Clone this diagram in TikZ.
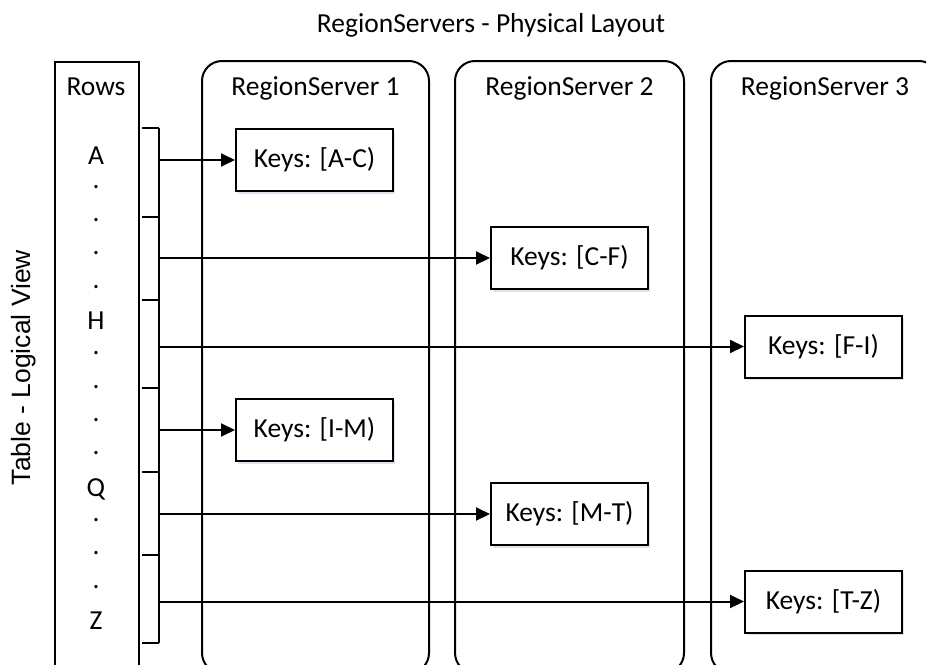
\documentclass[tikz,border=0pt]{standalone}
\usepackage{fontspec}
\setmainfont{Carlito}
\newfontfamily\arialfont{Liberation Sans}
\usetikzlibrary{arrows.meta,shadows}
\begin{document}
\begin{tikzpicture}[x=1pt,y=-1pt,line width=2pt,
  txt/.style={font=\fontsize{27.5}{32}\selectfont,inner sep=0pt},
  keybox/.style={draw,fill=white,minimum width=157pt,minimum height=62pt,inner sep=0pt,
    font=\fontsize{27.5}{32}\selectfont,
    drop shadow={shadow xshift=1.5pt,shadow yshift=-2.5pt,opacity=0.18,fill=blue!30!gray}},
  server/.style={draw,rounded corners=20pt,anchor=north west,minimum height=612pt,inner sep=0pt},
  feed/.style={-{Triangle[length=14pt,width=13pt]}}]

\useasboundingbox (0,0) rectangle (926,664);
\clip (0,0) rectangle (926,664);

% title and side caption
\node[txt,anchor=base] (title) at (491,32) {RegionServers - Physical Layout};
\node[inner sep=0pt,rotate=90,anchor=base,font=\arialfont\fontsize{26.5}{30}\selectfont]
  (side) at (30,367.5) {Table - Logical View};

% table column with row keys
\node[draw,anchor=north west,minimum width=84pt,minimum height=640pt,inner sep=0pt] (tbl) at (54,61) {};
\node[txt,anchor=base] (rows) at (96,95) {Rows};
\foreach \k/\y in {A/164,H/329,Q/496,Z/629}
  \node[txt,anchor=base] (row\k) at (96,\y) {\k};
\foreach \y [count=\i] in {187,220,253,287,353,387,420,453,520,553,587}
  \node[txt,anchor=base] (dot\i) at (96,\y+1.5) {.};

% region servers
\node[server,minimum width=227pt] (rs1) at (201,60) {};
\node[server,minimum width=229pt] (rs2) at (454,60) {};
\node[server,minimum width=228pt] (rs3) at (710,60) {};
\foreach \s in {1,2,3}
  \node[txt,anchor=base] (rs\s label) at ([yshift=-35.5pt]rs\s.north) {RegionServer \s};

% key ranges
\node[keybox] (kAC) at (314.5,160)   {Keys: [A-C)};
\node[keybox] (kCF) at (569.5,258)   {Keys: [C-F)};
\node[keybox] (kFI) at (823.5,346.5) {Keys: [F-I)};
\node[keybox] (kIM) at (314.5,430)   {Keys: [I-M)};
\node[keybox] (kMT) at (569.5,514)   {Keys: [M-T)};
\node[keybox] (kTZ) at (823.5,601.5) {Keys: [T-Z)};

% bracket splitting the rows into ranges
\coordinate (spine) at (158.5,0);
\coordinate (top) at (158.5,128);
\coordinate (bottom) at (158.5,643);
\draw (top) -- (bottom);
\foreach \y in {128,217,300,388,472,555,643}
  \draw (142,\y) -- (158.5,\y);

% range arrows
\foreach \b in {kAC,kCF,kFI,kIM,kMT,kTZ}
  \draw[feed] (\b.west -| spine) -- (\b.west);
\end{tikzpicture}
\end{document}
